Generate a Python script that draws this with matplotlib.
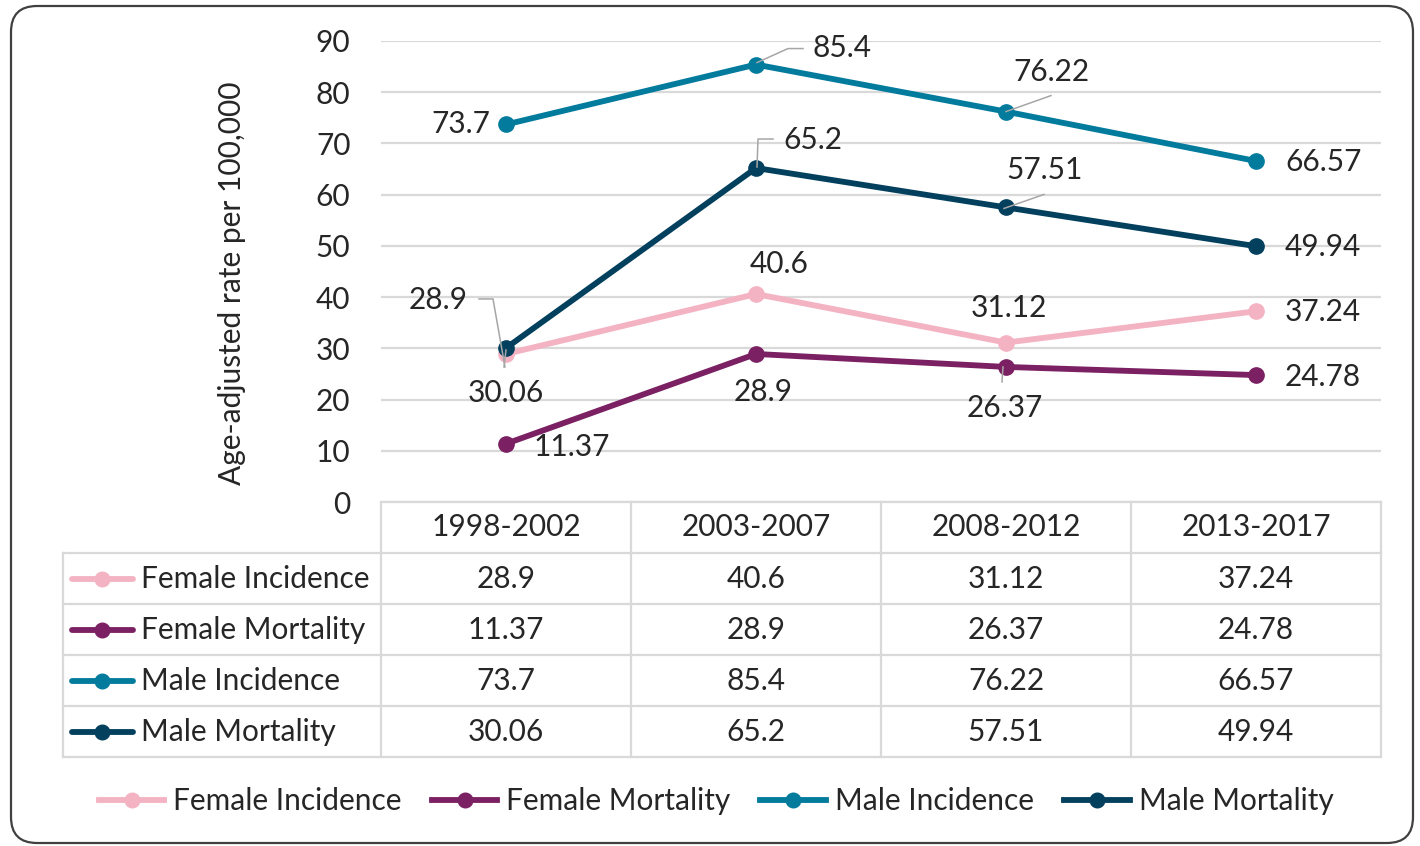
import matplotlib
matplotlib.use('Agg')
import matplotlib.pyplot as plt
from matplotlib.lines import Line2D
from matplotlib.patches import FancyBboxPatch
import matplotlib.transforms as mtransforms

# ---------------- data ----------------
periods = ['1998-2002', '2003-2007', '2008-2012', '2013-2017']
female_incidence = [28.9, 40.6, 31.12, 37.24]
female_mortality = [11.37, 28.9, 26.37, 24.78]
male_incidence = [73.7, 85.4, 76.22, 66.57]
male_mortality = [30.06, 65.2, 57.51, 49.94]
series_names = ['Female Incidence', 'Female Mortality', 'Male Incidence', 'Male Mortality']
y_ticks = [0, 10, 20, 30, 40, 50, 60, 70, 80, 90]
y_label = 'Age-adjusted rate per 100,000'

# ---------------- style ----------------
colors = ['#F4B3C2', '#7B2062', '#027B9D', '#03405E']
FONT = 'Lato'
FS = 21.5
TXT = '#262626'
GRID = '#D9D9D9'
LW = 4.2
MS = 11
plt.rcParams['font.family'] = [FONT, 'DejaVu Sans']

W, H = 1420, 846
fig = plt.figure(figsize=(W / 100, H / 100), dpi=100)


def fx(x):
    return x / W


def fy(y):
    return 1 - y / H


# plot area (pixels, y down)
L, R, T, B = 381, 1381, 41, 502
ax = fig.add_axes([fx(L), fy(B), (R - L) / W, (B - T) / H])
ax.set_xlim(-0.5, len(periods) - 0.5)
ax.set_ylim(y_ticks[0], y_ticks[-1])
ax.set_yticks(y_ticks)
ax.set_xticks([])
ax.yaxis.grid(True, color=GRID, lw=1.6)
ax.set_axisbelow(True)
for s in ax.spines.values():
    s.set_visible(False)
ax.tick_params(axis='y', length=0, pad=22, labelsize=FS, labelcolor=TXT)
for t in ax.get_yticklabels():
    t.set_fontfamily(FONT)

all_series = [female_incidence, female_mortality, male_incidence, male_mortality]
xs = list(range(len(periods)))
for i, (vals, c) in enumerate(zip(all_series, colors)):
    ax.plot(xs, vals, color=c, lw=LW, marker='o', ms=MS, zorder=3 + i,
            solid_capstyle='round', clip_on=False)

fig.text(fx(232), fy(283), y_label, rotation=90, ha='center', va='center',
         fontsize=FS, color=TXT)

# ---------------- data labels ----------------
# (series index, point index, dx, dy (pixels, y down), ha, leader polyline offsets)
label_specs = [
    (2, 0, -16, 0, 'right', None),
    (2, 1, 57, -17, 'left', [(1, -2), (32, -16), (47, -16)]),
    (2, 2, 45, -40, 'center', [(0, 0), (45, -16)]),
    (2, 3, 29, 1, 'left', None),
    (3, 0, 0, 45, 'center', [(-2, 19), (0, 2)]),
    (3, 1, 27, -28, 'left', [(1, -1), (2, -29), (17, -29)]),
    (3, 2, 39, -37, 'center', [(-2, 1), (38, -13)]),
    (3, 3, 29, 1, 'left', None),
    (0, 0, -38, -54, 'right', [(-27, -55), (-13, -55), (-1, 13)]),
    (0, 1, 23, -30, 'center', None),
    (0, 2, 3, -35, 'center', None),
    (0, 3, 29, 1, 'left', None),
    (1, 0, 28, 3, 'left', None),
    (1, 1, 7, 38, 'center', None),
    (1, 2, -1, 41, 'center', [(-3, 0), (-4, 15)]),
    (1, 3, 29, 2, 'left', None),
]

fig.canvas.draw()
for si, pi, dx, dy, ha, leader in label_specs:
    val = all_series[si][pi]
    ax.annotate(f'{val:g}', (pi, val), xytext=(dx, -dy), textcoords='offset pixels',
                ha=ha, va='center', fontsize=FS, color=TXT, zorder=10,
                annotation_clip=False)
    if leader:
        px, py = ax.transData.transform((pi, val))
        lx = [px + o[0] for o in leader]
        ly = [py - o[1] for o in leader]
        fig.add_artist(Line2D(lx, ly, transform=mtransforms.IdentityTransform(),
                              color='#A6A6A6', lw=1.1, zorder=9))

# ---------------- data table ----------------
col_edges = [L + i * (R - L) / len(periods) for i in range(len(periods) + 1)]
row_edges = [B + i * 51 for i in range(len(series_names) + 2)]
TL = 63


def hline(x0, x1, y):
    fig.add_artist(Line2D([fx(x0), fx(x1)], [fy(y), fy(y)], color=GRID, lw=1.6,
                          transform=fig.transFigure, zorder=1))


def vline(x, y0, y1):
    fig.add_artist(Line2D([fx(x), fx(x)], [fy(y0), fy(y1)], color=GRID, lw=1.6,
                          transform=fig.transFigure, zorder=1))


hline(L, R, row_edges[0])
for y in row_edges[1:]:
    hline(TL, R, y)
for x in col_edges:
    vline(x, row_edges[0], row_edges[-1])
vline(TL, row_edges[1], row_edges[-1])

for j, p in enumerate(periods):
    cx = (col_edges[j] + col_edges[j + 1]) / 2
    fig.text(fx(cx), fy((row_edges[0] + row_edges[1]) / 2), p, ha='center', va='center',
             fontsize=FS, color=TXT)
    for i, vals in enumerate(all_series):
        cy = (row_edges[i + 1] + row_edges[i + 2]) / 2
        fig.text(fx(cx), fy(cy), f'{vals[j]:g}', ha='center', va='center',
                 fontsize=FS, color=TXT)

for i, (name, c) in enumerate(zip(series_names, colors)):
    cy = (row_edges[i + 1] + row_edges[i + 2]) / 2
    fig.add_artist(Line2D([fx(72), fx(133)], [fy(cy), fy(cy)], color=c, lw=LW,
                          solid_capstyle='round', transform=fig.transFigure))
    fig.add_artist(Line2D([fx(102)], [fy(cy)], color=c, marker='o', ms=MS - 0.5,
                          transform=fig.transFigure))
    fig.text(fx(141), fy(cy), name, ha='left', va='center', fontsize=FS, color=TXT)

# ---------------- legend ----------------
handles = [Line2D([0], [0], color=c, lw=LW, marker='o', ms=MS - 0.5) for c in colors]
fig.legend(handles, series_names, loc='center', bbox_to_anchor=(fx(716), fy(801)),
           ncol=4, frameon=False, fontsize=FS, handlelength=2.2, handletextpad=0.3,
           columnspacing=1.0, labelcolor=TXT)

# ---------------- border ----------------
border = FancyBboxPatch((11, H - 843), 1402, 837,
                        boxstyle='round,pad=0,rounding_size=26',
                        transform=mtransforms.IdentityTransform(),
                        facecolor='none', edgecolor='#404040', lw=1.6)
fig.add_artist(border)

fig.savefig('out.png', dpi=100)
